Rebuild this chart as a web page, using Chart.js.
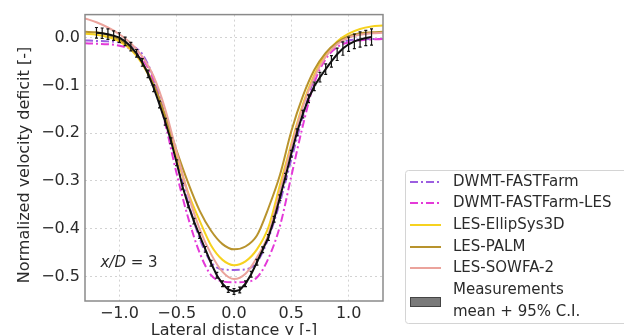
<!DOCTYPE html>
<html>
<head>
<meta charset="utf-8">
<script src="https://cdn.jsdelivr.net/npm/chart.js@4.4.0/dist/chart.umd.min.js"></script>
<style>
  html, body { margin: 0; padding: 0; background: #ffffff; }
  #c { display: block; }
</style>
</head>
<body>
<canvas id="c" width="624" height="335"></canvas>
<script>
// Lateral positions of the simulated profiles, y/D
const xModel = [-1.3, -1.2, -1.1, -1.0, -0.9, -0.8, -0.7, -0.6, -0.5, -0.4, -0.3, -0.2, -0.1, 0.0,
                0.1, 0.2, 0.3, 0.4, 0.5, 0.6, 0.7, 0.8, 0.9, 1.0, 1.1, 1.2, 1.3];

// Normalized velocity deficit of each model at x/D = 3
const dwmtFastFarm = [-0.006, -0.007, -0.008, -0.010, -0.016, -0.035, -0.085, -0.165, -0.255, -0.345, -0.420, -0.470, -0.485, -0.486,
                      -0.485, -0.470, -0.420, -0.345, -0.255, -0.165, -0.085, -0.035, -0.013, -0.006, -0.004, -0.003, -0.003];
const dwmtFastFarmLes = [-0.012, -0.013, -0.014, -0.017, -0.025, -0.045, -0.090, -0.180, -0.285, -0.377, -0.450, -0.497, -0.510, -0.512,
                         -0.511, -0.502, -0.462, -0.395, -0.290, -0.185, -0.095, -0.045, -0.020, -0.010, -0.006, -0.004, -0.003];
const lesEllipSys3D = [0.008, 0.006, 0.001, -0.008, -0.025, -0.055, -0.102, -0.170, -0.250, -0.325, -0.383, -0.435, -0.465, -0.476,
                       -0.468, -0.443, -0.397, -0.309, -0.222, -0.140, -0.078, -0.035, -0.008, 0.008, 0.018, 0.023, 0.025];
const lesPalm = [0.012, 0.011, 0.006, -0.004, -0.022, -0.052, -0.098, -0.163, -0.237, -0.304, -0.362, -0.404, -0.432, -0.443,
                 -0.437, -0.414, -0.357, -0.288, -0.196, -0.123, -0.068, -0.032, -0.010, 0.003, 0.009, 0.011, 0.012];
const lesSowfa2 = [0.040, 0.032, 0.021, 0.007, -0.012, -0.040, -0.082, -0.150, -0.240, -0.328, -0.400, -0.453, -0.490, -0.505,
                   -0.494, -0.460, -0.412, -0.322, -0.228, -0.145, -0.083, -0.040, -0.014, 0.000, 0.006, 0.009, 0.010];

// Measured profile: lateral positions, mean deficit and 95% confidence half-width
const xMeas = [-1.2, -1.15, -1.1, -1.05, -1.0, -0.95, -0.9, -0.85, -0.8, -0.75, -0.7, -0.65, -0.6, -0.55, -0.5,
               -0.45, -0.4, -0.35, -0.3, -0.25, -0.2, -0.15, -0.1, -0.05, 0.0, 0.05, 0.1, 0.15, 0.2, 0.25,
               0.3, 0.35, 0.4, 0.45, 0.5, 0.55, 0.6, 0.65, 0.7, 0.75, 0.8, 0.85, 0.9, 0.95, 1.0, 1.05, 1.1, 1.15, 1.2];
const measMean = [0.010, 0.009, 0.007, 0.004, 0.000, -0.008, -0.019, -0.033, -0.052, -0.076, -0.106, -0.140, -0.176, -0.216, -0.262,
                  -0.311, -0.350, -0.384, -0.414, -0.443, -0.472, -0.497, -0.515, -0.527, -0.531, -0.528, -0.515, -0.495, -0.470, -0.444,
                  -0.418, -0.380, -0.335, -0.290, -0.243, -0.198, -0.160, -0.128, -0.102, -0.083, -0.066, -0.050, -0.035, -0.023, -0.014,
                  -0.008, -0.004, -0.001, 0.001];
const measCi = [0.011, 0.011, 0.011, 0.010, 0.010, 0.009, 0.009, 0.008, 0.008, 0.008, 0.007, 0.007, 0.007, 0.006, 0.006,
                0.006, 0.006, 0.006, 0.006, 0.006, 0.006, 0.006, 0.006, 0.006, 0.006, 0.006, 0.006, 0.006, 0.006, 0.006,
                0.006, 0.006, 0.006, 0.006, 0.007, 0.007, 0.008, 0.008, 0.009, 0.010, 0.011, 0.012, 0.013, 0.014, 0.015,
                0.015, 0.016, 0.016, 0.017];

// Axis ticks
const xTicks = [-1.0, -0.5, 0.0, 0.5, 1.0];
const yTicks = [0.0, -0.1, -0.2, -0.3, -0.4, -0.5];

const FONT = "'DejaVu Sans', 'Liberation Sans', sans-serif";
const TEXT = '#2b2b2b';
const DASH_DOT = [8, 3, 2, 3];

const series = [
  { label: 'DWMT-FASTFarm', y: dwmtFastFarm, color: '#9c5ee0', dash: DASH_DOT },
  { label: 'DWMT-FASTFarm-LES', y: dwmtFastFarmLes, color: '#e43ad8', dash: DASH_DOT },
  { label: 'LES-EllipSys3D', y: lesEllipSys3D, color: '#f6d21f', dash: [] },
  { label: 'LES-PALM', y: lesPalm, color: '#b8932d', dash: [] },
  { label: 'LES-SOWFA-2', y: lesSowfa2, color: '#eba39c', dash: [] }
];

const pts = (xs, ys) => xs.map((x, i) => ({ x: x, y: ys[i] }));
const minus = v => (v < 0 ? '\u2212' : '') + Math.abs(v).toFixed(1);

const datasets = series.map((s, i) => ({
  label: s.label,
  data: pts(xModel, s.y),
  borderColor: s.color,
  backgroundColor: s.color,
  borderWidth: 2,
  borderDash: s.dash,
  pointRadius: 0,
  cubicInterpolationMode: 'monotone',
  fill: false,
  order: 5 - i
}));
datasets.push({
  label: 'Measurements mean + 95% C.I.',
  data: pts(xMeas, measMean),
  borderColor: '#111111',
  borderWidth: 2,
  pointRadius: 0,
  tension: 0,
  fill: false,
  order: 0
});

// Error bars, frame, annotation, y title and legend
const extras = {
  id: 'extras',
  afterDatasetsDraw(chart) {
    const { ctx, chartArea: a, scales: { x, y } } = chart;
    ctx.save();
    ctx.beginPath();
    ctx.rect(a.left, a.top, a.right - a.left, a.bottom - a.top);
    ctx.clip();
    ctx.strokeStyle = '#111111';
    ctx.lineWidth = 1.2;
    xMeas.forEach((xv, i) => {
      const px = x.getPixelForValue(xv);
      const y1 = y.getPixelForValue(measMean[i] + measCi[i]);
      const y2 = y.getPixelForValue(measMean[i] - measCi[i]);
      ctx.beginPath();
      ctx.moveTo(px, y1); ctx.lineTo(px, y2);
      ctx.moveTo(px - 1.5, y1); ctx.lineTo(px + 1.5, y1);
      ctx.moveTo(px - 1.5, y2); ctx.lineTo(px + 1.5, y2);
      ctx.stroke();
    });
    ctx.restore();

    // axes frame
    ctx.save();
    ctx.strokeStyle = '#8a8a8a';
    ctx.lineWidth = 1.5;
    ctx.strokeRect(a.left, a.top, a.right - a.left, a.bottom - a.top);
    ctx.restore();

    // x/D annotation
    ctx.save();
    ctx.fillStyle = TEXT;
    ctx.textBaseline = 'middle';
    ctx.textAlign = 'left';
    const ax = x.getPixelForValue(-1.165);
    const ay = y.getPixelForValue(-0.472);
    ctx.font = 'italic 15px ' + FONT;
    ctx.fillText('x/D', ax, ay);
    const w = ctx.measureText('x/D').width;
    ctx.font = '15px ' + FONT;
    ctx.fillText(' = 3', ax + w, ay);
    ctx.restore();
  },
  afterDraw(chart) {
    const ctx = chart.ctx;
    ctx.save();
    // y axis title
    ctx.fillStyle = TEXT;
    ctx.font = '16px ' + FONT;
    ctx.textAlign = 'center';
    ctx.textBaseline = 'middle';
    ctx.translate(25, 165);
    ctx.rotate(-Math.PI / 2);
    ctx.fillText('Normalized velocity deficit [-]', 0, 0);
    ctx.restore();

    ctx.save();
    // legend frame
    ctx.strokeStyle = '#d4d4d4';
    ctx.lineWidth = 1;
    ctx.beginPath();
    ctx.roundRect(405.5, 170.5, 230, 153, 3);
    ctx.stroke();
    ctx.font = '15px ' + FONT;
    ctx.textBaseline = 'middle';
    ctx.textAlign = 'left';
    const rows = [182, 203, 225, 247, 268];
    series.forEach((s, i) => {
      ctx.strokeStyle = s.color;
      ctx.lineWidth = 2;
      ctx.setLineDash(s.dash);
      ctx.beginPath();
      ctx.moveTo(410, rows[i]);
      ctx.lineTo(441, rows[i]);
      ctx.stroke();
      ctx.setLineDash([]);
      ctx.fillStyle = TEXT;
      ctx.fillText(s.label, 453, rows[i]);
    });
    ctx.fillStyle = '#7a7a7a';
    ctx.strokeStyle = '#444444';
    ctx.lineWidth = 1;
    ctx.fillRect(410, 297, 31, 10);
    ctx.strokeRect(410.5, 297.5, 30, 9);
    ctx.fillStyle = TEXT;
    ctx.fillText('Measurements', 453, 290);
    ctx.fillText('mean + 95% C.I.', 453, 312);
    ctx.restore();
  }
};

new Chart(document.getElementById('c'), {
  type: 'line',
  data: { datasets: datasets },
  options: {
    responsive: false,
    animation: false,
    devicePixelRatio: 1,
    layout: { padding: { left: 0, right: 241, top: 13, bottom: 0 } },
    plugins: { legend: { display: false }, tooltip: { enabled: false } },
    scales: {
      x: {
        type: 'linear',
        min: -1.3,
        max: 1.3,
        afterBuildTicks: axis => { axis.ticks = xTicks.map(v => ({ value: v })); },
        afterFit: axis => { axis.height = 34; },
        ticks: {
          callback: v => minus(v),
          color: TEXT,
          font: { family: FONT, size: 16 },
          padding: 3,
          maxRotation: 0
        },
        grid: { color: '#d2d2d2', lineWidth: 1, drawTicks: false },
        border: { display: false, dash: [2, 3] },
        title: {
          display: true,
          text: 'Lateral distance y [-]',
          color: TEXT,
          font: { family: FONT, size: 16 },
          padding: { top: 0, bottom: -5 }
        }
      },
      y: {
        type: 'linear',
        min: -0.551,
        max: 0.048,
        afterBuildTicks: axis => { axis.ticks = yTicks.map(v => ({ value: v })); },
        afterFit: axis => { axis.width = 85; },
        ticks: {
          callback: v => minus(v),
          color: TEXT,
          font: { family: FONT, size: 16 },
          padding: 5
        },
        grid: { color: '#d2d2d2', lineWidth: 1, drawTicks: false },
        border: { display: false, dash: [2, 3] },
        title: { display: false }
      }
    }
  },
  plugins: [extras]
});
</script>
</body>
</html>
